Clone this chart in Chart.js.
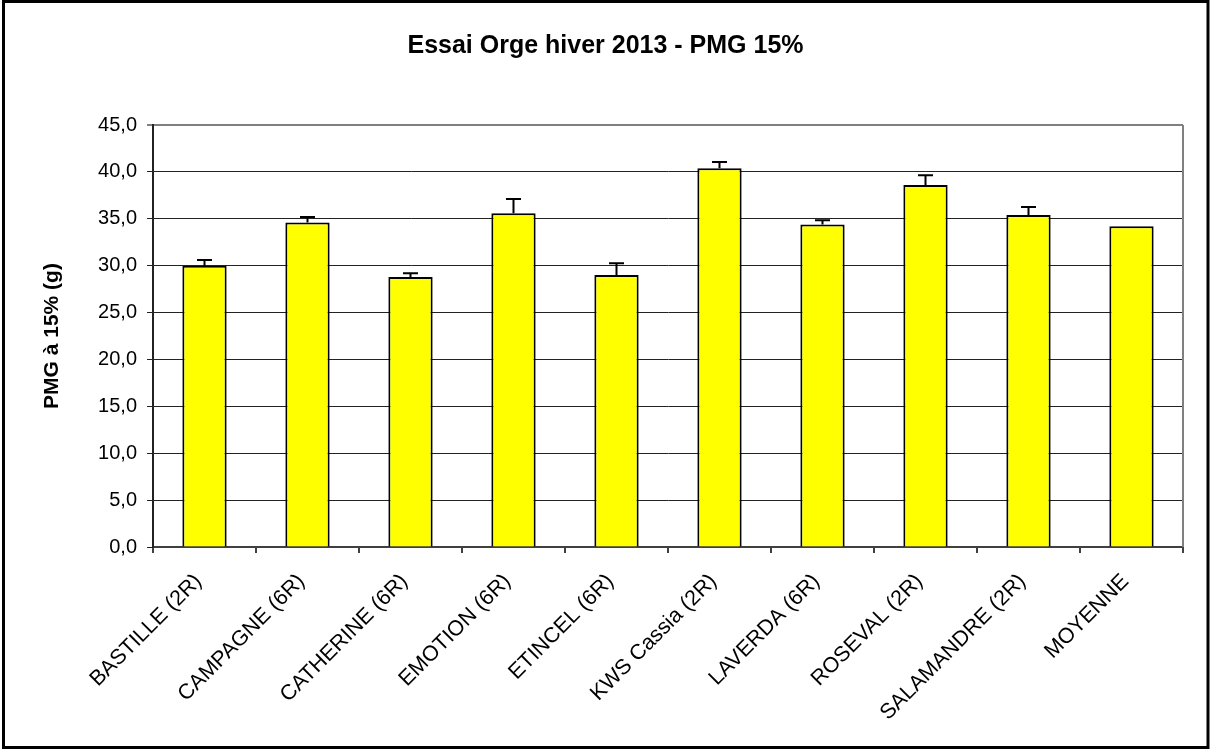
<!DOCTYPE html>
<html>
<head>
<meta charset="utf-8">
<script src="https://cdn.jsdelivr.net/npm/chart.js@4/dist/chart.umd.min.js"></script>
<style>
  html, body { margin: 0; padding: 0; background: #fff; }
  #wrap { width: 1211px; height: 752px; }
</style>
</head>
<body>
<div id="wrap"><canvas id="pmgChart" width="1211" height="752"></canvas></div>
<script>
// Chart data
const varieties = ['BASTILLE (2R)', 'CAMPAGNE (6R)', 'CATHERINE (6R)', 'EMOTION (6R)', 'ETINCEL (6R)',
    'KWS Cassia (2R)', 'LAVERDA (6R)', 'ROSEVAL (2R)', 'SALAMANDRE (2R)', 'MOYENNE'];
const pmgValues = [30.0, 34.6, 28.8, 35.6, 29.0, 40.4, 34.4, 38.6, 35.4, 34.2];
const pmgErrors = [0.6, 0.6, 0.4, 1.5, 1.25, 0.65, 0.45, 1.05, 0.85, 0];
const yTicks = [0, 5, 10, 15, 20, 25, 30, 35, 40, 45];

Chart.defaults.font.family = '"Liberation Sans", Arial, sans-serif';
Chart.defaults.color = '#000';

// error bars drawn on top of each bar
const errorBars = {
    id: 'errorBars',
    afterDatasetsDraw(chart) {
        const ctx = chart.ctx;
        const y = chart.scales.y;
        const meta = chart.getDatasetMeta(0);
        ctx.save();
        ctx.strokeStyle = '#000';
        ctx.lineWidth = 2;
        meta.data.forEach((bar, i) => {
            const err = pmgErrors[i];
            if (!err) return;
            const top = y.getPixelForValue(pmgValues[i] + err);
            ctx.beginPath();
            ctx.moveTo(bar.x, bar.y);
            ctx.lineTo(bar.x, top);
            ctx.moveTo(bar.x - 7.5, top);
            ctx.lineTo(bar.x + 7.5, top);
            ctx.stroke();
        });
        ctx.restore();
    }
};

// outer frame + right edge of the plot area
const frame = {
    id: 'frame',
    beforeDraw(chart) {
        const ctx = chart.ctx;
        ctx.save();
        ctx.fillStyle = '#fff';
        ctx.fillRect(0, 0, chart.width, chart.height);
        ctx.restore();
    },
    afterDraw(chart) {
        const ctx = chart.ctx;
        const a = chart.chartArea;
        ctx.save();
        ctx.strokeStyle = '#808080';
        ctx.lineWidth = 2;
        ctx.beginPath();
        ctx.moveTo(a.right, a.top);
        ctx.lineTo(a.right, a.bottom);
        ctx.stroke();
        ctx.strokeStyle = '#000';
        ctx.lineWidth = 3;
        ctx.strokeRect(3.5, 1.5, 1204.5, 746);
        ctx.restore();
    }
};

const ctx = document.getElementById('pmgChart').getContext('2d');
new Chart(ctx, {
    type: 'bar',
    data: {
        labels: varieties,
        datasets: [{
            data: pmgValues,
            backgroundColor: '#FFFF00',
            borderColor: '#000',
            borderWidth: 2,
            barPercentage: 0.43,
            categoryPercentage: 1
        }]
    },
    options: {
        responsive: false,
        animation: false,
        layout: { padding: { left: 28, right: 28, top: 0, bottom: 0 } },
        plugins: {
            legend: { display: false },
            tooltip: { enabled: false },
            title: {
                display: true,
                text: 'Essai Orge hiver 2013 - PMG 15%',
                font: { size: 25, weight: 'bold' },
                color: '#000',
                padding: { top: 31, bottom: 64 }
            }
        },
        scales: {
            x: {
                grid: { display: true, drawOnChartArea: false, offset: true, tickLength: 6, color: '#404040', lineWidth: 2 },
                border: { color: '#404040', width: 2 },
                ticks: { maxRotation: 45, minRotation: 45, padding: 16, labelOffset: -6, font: { size: 21.5 }, color: '#000' },
                afterFit: s => { s.height = 205; }
            },
            y: {
                min: 0,
                max: 45,
                afterBuildTicks: s => { s.ticks = yTicks.map(v => ({ value: v })); },
                grid: {
                    tickLength: 6,
                    color: c => (c.tick && c.tick.value === 45) ? '#808080' : '#222',
                    lineWidth: c => (c.tick && c.tick.value === 45) ? 2 : 1
                },
                border: { color: '#222', width: 2 },
                ticks: {
                    padding: 10,
                    font: { size: 20 },
                    color: '#000',
                    callback: v => v.toFixed(1).replace('.', ',')
                },
                title: {
                    display: true,
                    text: 'PMG à 15% (g)',
                    font: { size: 21, weight: 'bold' },
                    color: '#000',
                    padding: { top: 12 }
                },
                afterFit: s => { s.width = 125; }
            }
        }
    },
    plugins: [errorBars, frame]
});
</script>
</body>
</html>
